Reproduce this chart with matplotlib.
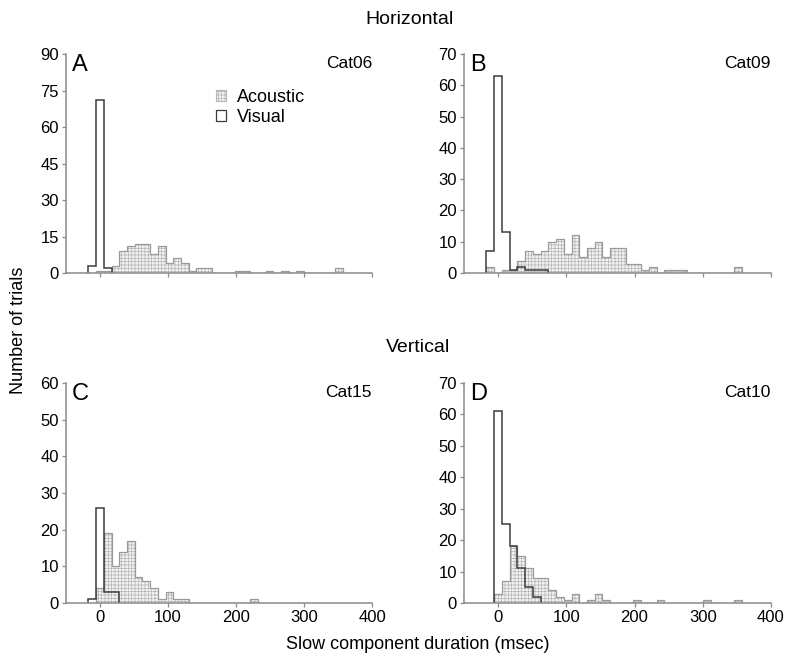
import numpy as np
import matplotlib.pyplot as plt
from matplotlib.patches import Patch

plt.rcParams["font.family"] = ["Liberation Sans", "DejaVu Sans"]
plt.rcParams["hatch.linewidth"] = 0.5

# histogram bins (msec); first bin index is -1 (bins centred on multiples of bin_w)
bin_w = 11.33
first_bin = -1

# counts per bin, starting at first_bin
a_visual = [3, 71, 2]
a_acoustic = [0, 1, 1, 3, 9, 11, 12, 12, 8, 11, 4, 6, 4, 1, 2, 2, 0, 0, 0, 1, 1,
              0, 0, 1, 0, 1, 0, 1, 0, 0, 0, 0, 2]
b_visual = [7, 63, 13, 1, 2, 1, 1, 1]
b_acoustic = [2, 0, 1, 1, 4, 7, 6, 7, 10, 11, 6, 12, 5, 8, 10, 5, 8, 8, 3, 3, 1,
              2, 0, 1, 1, 1, 0, 0, 0, 0, 0, 0, 2]
c_visual = [1, 26, 3, 3]
c_acoustic = [0, 4, 19, 10, 14, 17, 7, 6, 4, 1, 3, 1, 1, 0, 0, 0, 0, 0, 0, 0, 0, 1]
d_visual = [0, 61, 25, 18, 11, 5, 2]
d_acoustic = [0, 3, 7, 18, 15, 11, 8, 8, 4, 2, 1, 3, 0, 1, 3, 1, 0, 0, 0, 1, 0,
              0, 1, 0, 0, 0, 0, 0, 1, 0, 0, 0, 1]

panels = [
    ("A", "Cat06", a_visual, a_acoustic, 90, 15, [0.0838, 0.5838, 0.3883, 0.3338], False),
    ("B", "Cat09", b_visual, b_acoustic, 70, 10, [0.5888, 0.5838, 0.3896, 0.3338], False),
    ("C", "Cat15", c_visual, c_acoustic, 60, 10, [0.0838, 0.0808, 0.3883, 0.3354], True),
    ("D", "Cat10", d_visual, d_acoustic, 70, 10, [0.5888, 0.0808, 0.3896, 0.3354], True),
]

spine_col = "#8a8a8a"
aco_face = "#f2f2f2"
aco_hatch = "#b5b5b5"
aco_edge = "#9a9a9a"
vis_col = "#3c3c3c"


def trimmed(counts):
    # drop leading empty bins so the outline starts at the first filled bin
    counts = np.array(counts, dtype=float)
    start = int(np.argmax(counts > 0))
    counts = counts[start:]
    edges = (np.arange(len(counts) + 1) + first_bin + start - 0.5) * bin_w
    return counts, edges


fig = plt.figure(figsize=(7.88, 6.56), dpi=100)

for letter, cat, vis, aco, ymax, ystep, pos, xlabels in panels:
    ax = fig.add_axes(pos)
    aco_v, aco_e = trimmed(aco)
    vis_v, vis_e = trimmed(vis)
    ax.stairs(aco_v, aco_e, fill=True, facecolor=aco_face,
              edgecolor=aco_hatch, hatch="+++++", linewidth=0)
    ax.stairs(aco_v, aco_e, fill=False, edgecolor=aco_edge, linewidth=0.9)
    ax.stairs(vis_v, vis_e, fill=False, edgecolor=vis_col, linewidth=1.1)

    ax.set_xlim(-50, 400)
    ax.set_ylim(0, ymax)
    ax.set_xticks([0, 100, 200, 300, 400])
    ax.set_yticks(np.arange(0, ymax + 1, ystep))
    if not xlabels:
        ax.set_xticklabels([])
    for s in ["top", "right"]:
        ax.spines[s].set_visible(False)
    for s in ["left", "bottom"]:
        ax.spines[s].set_color(spine_col)
        ax.spines[s].set_linewidth(1.1)
    ax.tick_params(axis="both", colors=spine_col, labelcolor="black",
                   labelsize=12, length=3, width=0.9, pad=2)

    ax.text(0.02, 1.0, letter, transform=ax.transAxes, ha="left", va="top",
            fontsize=17)
    ax.text(1.0, 0.99, cat, transform=ax.transAxes, ha="right", va="top",
            fontsize=12.5)

    if letter == "A":
        handles = [Patch(facecolor=aco_face, edgecolor=aco_hatch, hatch="+++++",
                         linewidth=0.8),
                   Patch(facecolor="white", edgecolor=vis_col, linewidth=0.9)]
        ax.legend(handles, ["Acoustic", "Visual"], loc="upper left",
                  bbox_to_anchor=(0.49, 0.84), frameon=False, fontsize=13,
                  handlelength=0.55, handleheight=0.55, handletextpad=0.6,
                  labelspacing=0.15, borderpad=0, borderaxespad=0)

fig.text(0.52, 1 - 20 / 656, "Horizontal", ha="center", va="center", fontsize=14)
fig.text(0.53, 1 - 348 / 656, "Vertical", ha="center", va="center", fontsize=14)
fig.text(0.023, 0.497, "Number of trials", ha="center", va="center",
         rotation=90, fontsize=13)
fig.text(0.53, 0.017, "Slow component duration (msec)", ha="center",
         va="center", fontsize=13)

fig.savefig("out.png", dpi=100)
